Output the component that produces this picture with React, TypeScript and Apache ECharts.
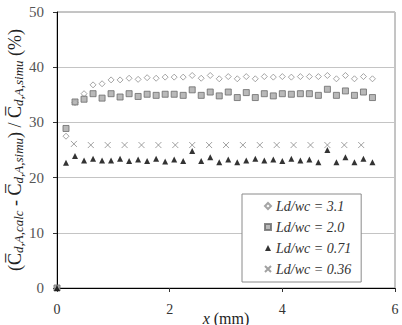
import React, { useEffect, useRef } from "react";
import * as echarts from "echarts";

const xFine = [0, 0.16, 0.32, 0.48, 0.64, 0.8, 0.96, 1.12, 1.28, 1.44, 1.6, 1.76, 1.92, 2.08, 2.24, 2.4, 2.56, 2.72, 2.88, 3.04, 3.2, 3.36, 3.52, 3.68, 3.84, 4.0, 4.16, 4.32, 4.48, 4.64, 4.8, 4.96, 5.12, 5.28, 5.44, 5.6];
const xCoarse = [0.3, 0.6, 0.9, 1.2, 1.5, 1.8, 2.1, 2.4, 2.7, 3.0, 3.3, 3.6, 3.9, 4.2, 4.5, 4.8, 5.1, 5.4];

const ld31 = [0, 27.5, 33.6, 35.2, 36.8, 37.0, 37.7, 37.7, 38.0, 37.8, 38.1, 38.0, 38.2, 38.2, 38.2, 38.5, 38.0, 38.5, 37.9, 38.3, 37.9, 38.3, 37.9, 38.3, 38.2, 38.3, 38.2, 38.3, 38.3, 38.3, 38.5, 37.9, 38.5, 37.9, 38.3, 37.9];
const ld20 = [0, 28.9, 33.7, 34.2, 35.2, 34.4, 35.2, 34.6, 35.2, 34.7, 35.1, 34.9, 35.1, 35.1, 34.9, 35.9, 34.9, 35.5, 34.8, 35.5, 34.5, 35.4, 34.5, 35.2, 34.8, 35.2, 35.1, 35.2, 35.2, 34.9, 36.0, 34.9, 35.7, 34.9, 35.5, 34.5];
const ld071 = [0, 22.7, 23.9, 23.1, 23.4, 23.1, 23.1, 23.4, 23.0, 23.3, 23.0, 23.4, 22.9, 23.3, 23.0, 24.8, 23.0, 23.7, 22.8, 23.3, 22.8, 23.1, 23.4, 23.1, 23.3, 23.0, 23.4, 23.1, 23.3, 22.8, 25.0, 22.8, 23.7, 22.8, 23.4, 22.8];
const ld036 = [26.1, 25.9, 25.9, 25.9, 25.9, 25.9, 25.9, 25.9, 25.9, 25.9, 25.9, 25.9, 25.9, 25.9, 25.9, 25.9, 25.9, 25.9];

const seriesNames = ["Ld/wc = 3.1", "Ld/wc = 2.0", "Ld/wc = 0.71", "Ld/wc = 0.36"];
const xTicks = [0, 2, 4, 6];
const yTicks = [0, 10, 20, 30, 40, 50];

const pair = (xs: number[], ys: number[]) => ys.map((y, i) => [xs[i], y]);

const SERIF = "'Liberation Serif', 'Times New Roman', serif";

export default function App() {
  const ref = useRef<HTMLDivElement>(null);
  useEffect(() => {
    document.body.style.margin = "0";
    if (!ref.current) return;
    const chart = echarts.init(ref.current, undefined, { renderer: "svg" });
    const cross = "path://M0,0L10,10M10,0L0,10";
    chart.setOption({
      animation: false,
      backgroundColor: "#ffffff",
      grid: {
        left: 57,
        right: 7,
        top: 12,
        bottom: 37,
        outerBoundsMode: "none",
        containLabel: false,
        show: true,
        borderColor: "#8a8a8a",
        borderWidth: 1,
        backgroundColor: "transparent",
      },
      legend: {
        orient: "vertical",
        left: 242,
        top: 194,
        width: 134,
        padding: [5, 10, 6, 22],
        itemGap: 7,
        itemWidth: 6,
        itemHeight: 6,
        backgroundColor: "#ffffff",
        borderColor: "#8a8a8a",
        borderWidth: 1,
        data: seriesNames,
        textStyle: { fontFamily: SERIF, fontStyle: "italic", fontSize: 14, color: "#333" },
      },
      xAxis: {
        type: "value",
        min: 0,
        max: 6,
        interval: 2,
        name: "{i|x} (mm)",
        nameLocation: "middle",
        nameMoveOverlap: false,
        nameGap: 22,
        nameTextStyle: { fontFamily: SERIF, fontSize: 16, color: "#222", verticalAlign: "top", rich: { i: { fontFamily: SERIF, fontSize: 16, fontStyle: "italic", color: "#222" } } },
        axisLine: { lineStyle: { color: "#000", width: 1 } },
        axisTick: { show: true, length: 4, lineStyle: { color: "#333" } },
        axisLabel: { fontFamily: SERIF, fontSize: 14, color: "#333", margin: 14, formatter: (v: number) => (xTicks.includes(v) ? String(v) : "") },
        splitLine: { show: false },
      },
      yAxis: {
        type: "value",
        min: 0,
        max: 50,
        interval: 10,
        name:
          "({c|C\u0305}{s|d,A,calc} - {c|C\u0305}{s|d,A,simu}) / {c|C\u0305}{s|d,A,simu} (%)",
        nameLocation: "middle",
        nameRotate: 90,
        nameMoveOverlap: false,
        nameGap: 32,
        nameTextStyle: {
          fontFamily: SERIF,
          fontSize: 18,
          color: "#222",
          rich: {
            c: { fontFamily: SERIF, fontSize: 18, color: "#222" },
            s: { fontFamily: SERIF, fontSize: 13, fontStyle: "italic", color: "#222", verticalAlign: "bottom", padding: [8, 0, 0, 0] },
          },
        },
        axisLine: { show: true, lineStyle: { color: "#000", width: 1 } },
        axisTick: { show: true, length: 4, lineStyle: { color: "#333" } },
        axisLabel: { fontFamily: SERIF, fontSize: 15, color: "#555", margin: 13, formatter: (v: number) => (yTicks.includes(v) ? String(v) : "") },
        splitLine: { show: true, lineStyle: { color: "#c4c4c4", width: 1 } },
      },
      series: [
        {
          name: seriesNames[0],
          type: "scatter",
          symbol: "diamond",
          symbolSize: 6,
          data: pair(xFine, ld31),
          itemStyle: { color: "#ffffff", borderColor: "#8f8f8f", borderWidth: 1 },
        },
        {
          name: seriesNames[1],
          type: "scatter",
          symbol: "rect",
          symbolSize: 6,
          data: pair(xFine, ld20),
          itemStyle: { color: "#a8a8a8", borderColor: "#6a6a6a", borderWidth: 1 },
        },
        {
          name: seriesNames[2],
          type: "scatter",
          symbol: "triangle",
          symbolSize: 6,
          data: pair(xFine, ld071),
          itemStyle: { color: "#000000" },
        },
        {
          name: seriesNames[3],
          type: "scatter",
          symbol: cross,
          symbolSize: 6,
          data: pair(xCoarse, ld036),
          itemStyle: { color: "transparent", borderColor: "#8a8a8a", borderWidth: 1 },
        },
      ],
    });
    return () => chart.dispose();
  }, []);
  return <div ref={ref} style={{ position: "absolute", left: 0, top: 0, width: 402, height: 325 }} />;
}
